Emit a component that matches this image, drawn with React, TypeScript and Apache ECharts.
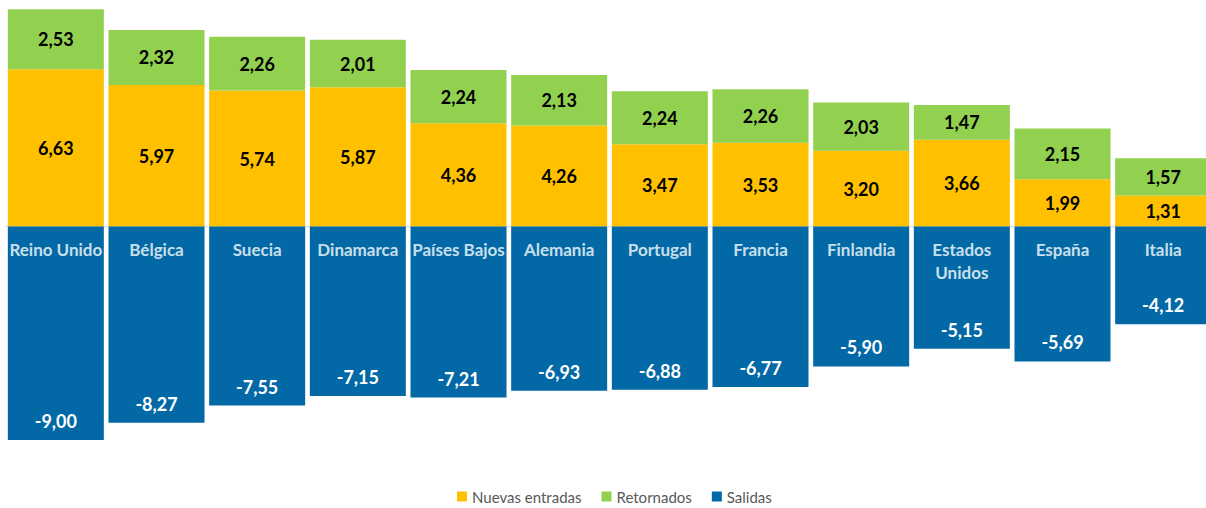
import React, { useEffect, useRef } from "react";
import * as echarts from "echarts";

// Countries, in the order they are drawn
const categories = [
  "Reino Unido",
  "Bélgica",
  "Suecia",
  "Dinamarca",
  "Países Bajos",
  "Alemania",
  "Portugal",
  "Francia",
  "Finlandia",
  "Estados\nUnidos",
  "España",
  "Italia",
];

const nuevasEntradas = [6.63, 5.97, 5.74, 5.87, 4.36, 4.26, 3.47, 3.53, 3.2, 3.66, 1.99, 1.31];
const retornados = [2.53, 2.32, 2.26, 2.01, 2.24, 2.13, 2.24, 2.26, 2.03, 1.47, 2.15, 1.57];
const salidas = [-9.0, -8.27, -7.55, -7.15, -7.21, -6.93, -6.88, -6.77, -5.9, -5.15, -5.69, -4.12];

const FONT = "Lato, 'Open Sans', sans-serif";
const fmt = (v: number) => v.toFixed(2).replace(".", ",");

export default function App() {
  const ref = useRef<HTMLDivElement>(null);

  useEffect(() => {
    if (!ref.current) return;
    const chart = echarts.init(ref.current, null, { renderer: "svg" });

    const valueLabel = (color: string, position: any, extra: any = {}) => ({
      show: true,
      position,
      color,
      fontFamily: FONT,
      fontWeight: "bold",
      fontSize: 18,
      formatter: (p: any) => fmt(p.value),
      ...extra,
    });

    chart.setOption({
      animation: false,
      textStyle: { fontFamily: FONT },
      grid: { left: 5.5, top: 1.3, width: 1208, height: 450.5, containLabel: false },
      legend: {
        left: 452,
        top: 484,
        icon: "rect",
        itemWidth: 10,
        itemHeight: 10,
        itemGap: 20,
        textStyle: { color: "#595959", fontSize: 15, fontFamily: FONT },
        data: ["Nuevas entradas", "Retornados", "Salidas"],
      },
      xAxis: {
        type: "category",
        data: categories,
        axisLine: { onZero: true, lineStyle: { color: "#d9d9d9", width: 1 } },
        axisTick: { show: false },
        axisLabel: { show: false },
      },
      yAxis: {
        type: "value",
        min: -9.5,
        max: 9.5,
        show: false,
        splitLine: { show: false },
      },
      series: [
        {
          name: "Nuevas entradas",
          type: "bar",
          stack: "total",
          data: nuevasEntradas,
          barWidth: 96,
          itemStyle: { color: "#FFC000" },
          label: valueLabel("#000000", "inside"),
        },
        {
          name: "Retornados",
          type: "bar",
          stack: "total",
          data: retornados,
          barWidth: 96,
          itemStyle: { color: "#92D050" },
          label: valueLabel("#000000", "inside"),
        },
        {
          name: "Salidas",
          type: "bar",
          stack: "total",
          data: salidas,
          barWidth: 96,
          itemStyle: { color: "#0369A6" },
          label: valueLabel("#ffffff", "insideBottom", { distance: 10 }),
        },
        {
          // Country names written at the top of each outflow bar
          name: "Países",
          type: "scatter",
          data: categories.map(() => 0),
          symbolSize: 0,
          z: 10,
          silent: true,
          label: {
            show: true,
            position: "bottom",
            distance: 11,
            color: "#ffffff",
            fontFamily: FONT,
            fontWeight: "bold",
            fontSize: 17,
            lineHeight: 23,
            align: "center",
            formatter: (p: any) => categories[p.dataIndex],
          },
        },
      ],
    });

    return () => chart.dispose();
  }, []);

  return (
    <div style={{ position: "absolute", left: 0, top: 0, width: 1206, height: 508, overflow: "hidden" }}>
      <div ref={ref} style={{ width: 1222, height: 508 }} />
    </div>
  );
}
